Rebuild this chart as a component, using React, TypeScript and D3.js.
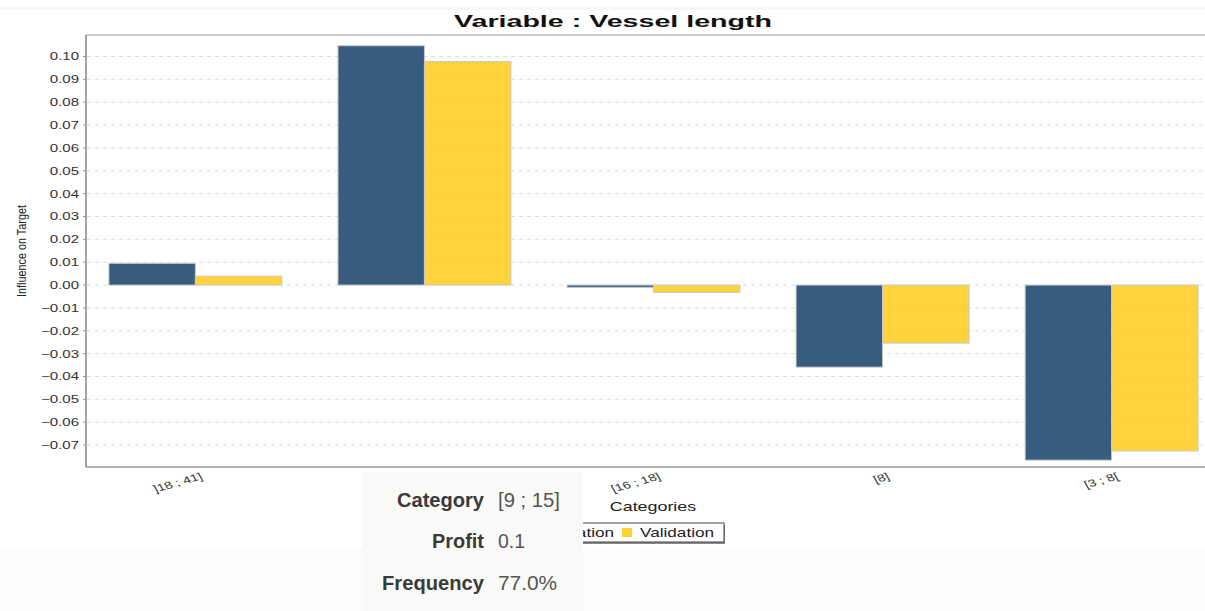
import React from 'react';
import * as d3 from 'd3';

const categories = [']18 ; 41]', '[9 ; 15]', '[16 ; 18]', '[8]', '[3 ; 8['];
const seriesNames = ['Estimation', 'Validation'];
const estimation = [0.0095, 0.1047, -0.001, -0.0359, -0.0766];
const validation = [0.0039, 0.0978, -0.0032, -0.0254, -0.0726];
const yTicks = [-0.07, -0.06, -0.05, -0.04, -0.03, -0.02, -0.01, 0, 0.01, 0.02, 0.03, 0.04, 0.05, 0.06, 0.07, 0.08, 0.09, 0.1];
const tipLabels = ['Category', 'Profit', 'Frequency'];
const tipValues = ['[9 ; 15]', '0.1', '77.0%'];

const W = 1205;
const H = 611;
const SX = 1.43; // the picture is stretched horizontally
const FONT = '"Liberation Sans", Arial, sans-serif';
const NARROW = '"Liberation Sans Narrow", "Liberation Sans", Arial, sans-serif';
const colors = ['#2d5379', '#fed130'];

const plot = { left: 86, top: 35, right: 1221, bottom: 467 };

const st = (x: number, y: number, extra = '') => `translate(${x},${y}) scale(${SX},1) ${extra}`;

export default function App() {
  const y = d3.scaleLinear().domain([-0.0796, 0.1094]).range([plot.bottom, plot.top]);
  const x = d3.scaleBand<string>()
    .domain(categories)
    .range([plot.left, plot.right])
    .paddingInner(0.245)
    .paddingOuter(0.1);
  const xs = d3.scaleBand<string>().domain(seriesNames).range([0, x.bandwidth()]);
  const values = [estimation, validation];

  // legend: swatch 10, gap 8, label, gap 8 ...
  const legendX = [516, 622];

  return (
    <div style={{ position: 'absolute', left: 0, top: 0 }}>
      <svg width={W} height={H} style={{ display: 'block' }}>
        <rect x={0} y={0} width={W} height={H} fill="#ffffff" />
        <rect x={0} y={7} width={W} height={3} fill="#f7f7f5" />
        <rect x={0} y={548} width={W} height={H - 548} fill="#fbfbfa" />

        <text x={613} y={27} textAnchor="middle" fontFamily={FONT} fontWeight="bold" fontSize={17}
          textLength={318} lengthAdjust="spacingAndGlyphs" fill="#111">
          Variable : Vessel length
        </text>

        {yTicks.map(t => (
          <g key={t}>
            <line x1={plot.left + 1} x2={W} y1={y(t)} y2={y(t)} stroke="#dedede" strokeDasharray="4,4" />
            <line x1={plot.left - 3} x2={plot.left} y1={y(t)} y2={y(t)} stroke="#999" />
            <text transform={st(79, y(t) + 4)} textAnchor="end" fontFamily={FONT} fontSize={10.5} fill="#333">
              {d3.format('.2f')(t)}
            </text>
          </g>
        ))}

        <line x1={plot.left} x2={W} y1={plot.top} y2={plot.top} stroke="#bdbdbd" strokeWidth={1.5} />

        {categories.map((c, i) => (
          <g key={c}>
            {seriesNames.map((s, j) => {
              const v = values[j][i];
              return (
                <rect key={s}
                  x={(x(c) ?? 0) + (xs(s) ?? 0)}
                  y={Math.min(y(v), y(0))}
                  width={xs.bandwidth()}
                  height={Math.abs(y(v) - y(0))}
                  fill={colors[j]}
                  fillOpacity={0.95}
                  stroke="#c8c8c8"
                  strokeWidth={1} />
              );
            })}
            <text transform={st((x(c) ?? 0) + x.bandwidth() / 2 + 8, 479, 'rotate(-22)')}
              textAnchor="end" fontFamily={FONT} fontSize={10} fill="#333">
              {c}
            </text>
          </g>
        ))}

        <line x1={plot.left} x2={plot.left} y1={plot.top} y2={plot.bottom} stroke="#9a9a9a" strokeWidth={1.8} />
        <line x1={plot.left} x2={W} y1={plot.bottom} y2={plot.bottom} stroke="#9a9a9a" strokeWidth={1.5} />

        <text transform="translate(26,251) rotate(-90)" textAnchor="middle" fontFamily={NARROW} fontSize={13}
          textLength={92} lengthAdjust="spacingAndGlyphs" fill="#222">
          Influence on Target
        </text>

        <text transform={st(653, 511)} textAnchor="middle" fontFamily={FONT} fontSize={12.5} fill="#222">
          Categories
        </text>

        <g>
          <rect x={512} y={525} width={213} height={19} fill="#8a8a8a" />
          <rect x={510} y={523} width={214} height={19} fill="#fff" stroke="#444" strokeWidth={1} />
          {seriesNames.map((s, j) => (
            <g key={s}>
              <rect x={legendX[j]} y={528} width={10} height={9} fill={colors[j]} />
              <text transform={st(legendX[j] + 18, 537)} fontFamily={FONT} fontSize={12} fill="#222">{s}</text>
            </g>
          ))}
        </g>

        <g>
          <rect x={363} y={472} width={220} height={H - 472} fill="#f9f9f7" />
          {tipLabels.map((l, i) => {
            const widths = [87, 52, 102];
            const vwidths = [62, 27, 59];
            const by = [507, 548, 590][i];
            return (
              <g key={l}>
                <text x={484} y={by} textAnchor="end" fontFamily={NARROW} fontWeight="bold" fontSize={21}
                  textLength={widths[i]} lengthAdjust="spacingAndGlyphs" fill="#3a3a3a">
                  {l}
                </text>
                <text x={498} y={by} fontFamily={NARROW} fontSize={21}
                  textLength={vwidths[i]} lengthAdjust="spacingAndGlyphs" fill="#555">
                  {tipValues[i]}
                </text>
              </g>
            );
          })}
        </g>
      </svg>
    </div>
  );
}
